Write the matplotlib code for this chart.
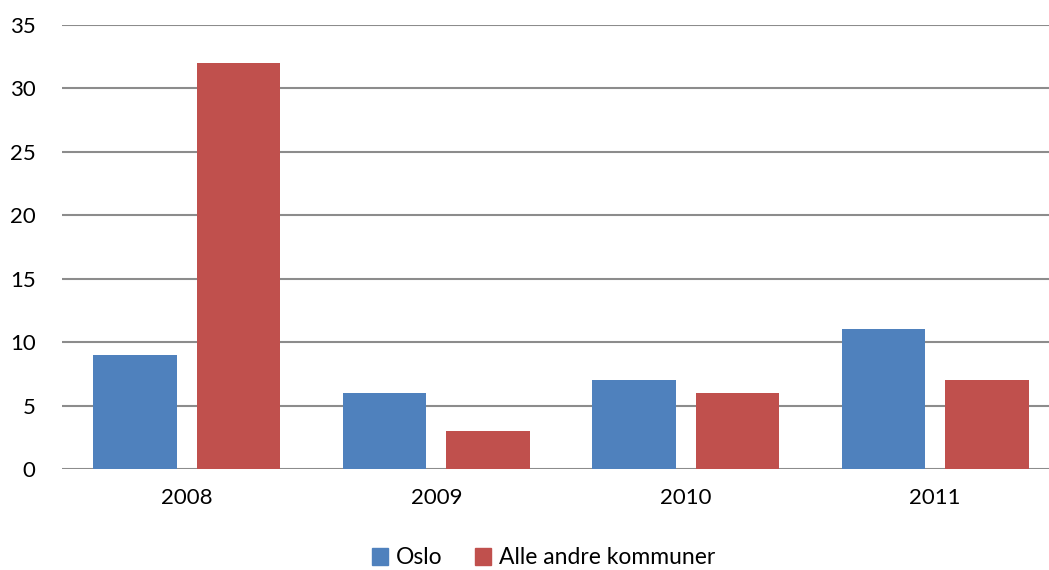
import numpy as np
import matplotlib.pyplot as plt
from matplotlib.patches import Patch

years = ['2008', '2009', '2010', '2011']
oslo = [9, 6, 7, 11]
andre = [32, 3, 6, 7]
series_names = ['Oslo', 'Alle andre kommuner']

plt.rcParams['font.family'] = ['Lato', 'DejaVu Sans']

fig = plt.figure(figsize=(10.49, 5.70), dpi=100)
ax = fig.add_axes([62 / 1049, 1 - 469 / 570, (1049 - 62) / 1049, (469 - 25) / 570])

x = np.arange(len(years))
w = 0.335
ax.bar(x - 0.208, oslo, w, color='#4F81BD', zorder=3)
ax.bar(x + 0.208, andre, w, color='#C0504D', zorder=3)

ax.set_xlim(-0.5, -0.5 + (1049 - 62) / 249.5)
ax.set_ylim(0, 35)
ax.set_yticks(range(0, 36, 5))
ax.set_xticks(x)
ax.set_xticklabels(years)
ax.yaxis.grid(True, color='#8C8C8C', linewidth=1.5, zorder=0)
for s in ax.spines.values():
    s.set_visible(False)
ax.tick_params(axis='both', length=0, labelsize=16)
ax.tick_params(axis='y', pad=19)
ax.tick_params(axis='x', pad=14)

handles = [Patch(color='#4F81BD'), Patch(color='#C0504D')]
fig.legend(handles, series_names, loc='center', bbox_to_anchor=(0.518, 1 - 558 / 570),
           ncol=2, frameon=False, fontsize=16.5, handlelength=0.7, handleheight=0.7,
           handletextpad=0.35, columnspacing=1.4)

fig.savefig('out.png', dpi=100)
